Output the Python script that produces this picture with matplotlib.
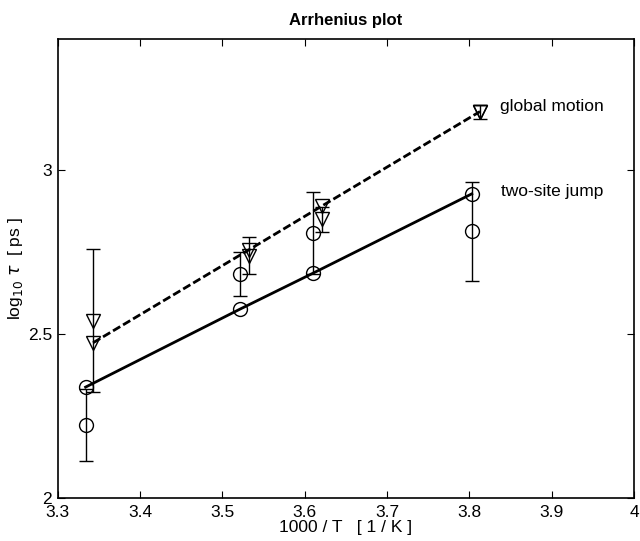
import matplotlib
matplotlib.use("Agg")
import matplotlib.pyplot as plt

plt.rcParams['font.family'] = ['Liberation Sans', 'DejaVu Sans']

# two-site jump (circles): fitted line points
jump_x = [3.334, 3.521, 3.610, 3.803]
jump_fit = [2.338, 2.575, 2.685, 2.927]
# two-site jump measured values with errors
jump_meas = [2.223, 2.683, 2.807, 2.813]
jump_err = [0.110, 0.068, 0.125, 0.151]

# global motion (triangles): fitted line points
glob_x = [3.343, 3.532, 3.621, 3.813]
glob_fit = [2.473, 2.756, 2.890, 3.178]
# global motion measured values with errors
glob_meas = [2.541, 2.739, 2.850, 3.176]
glob_err = [0.217, 0.056, 0.038, 0.022]

xticks = [3.3, 3.4, 3.5, 3.6, 3.7, 3.8, 3.9, 4.0]
xticklabels = ['3.3', '3.4', '3.5', '3.6', '3.7', '3.8', '3.9', '4']
yticks = [2.0, 2.5, 3.0]
yticklabels = ['2', '2.5', '3']

fig = plt.figure(figsize=(6.4, 5.41), dpi=100)
ax = fig.add_axes([0.090, 0.0795, 0.9006, 0.849])

ms = 10
ax.errorbar(jump_x, jump_meas, yerr=jump_err, fmt='o', mfc='none', mec='black',
            ms=ms, mew=1.0, ecolor='black', elinewidth=1.0, capsize=5, capthick=1.0)
ax.errorbar(glob_x, glob_meas, yerr=glob_err, fmt='v', mfc='none', mec='black',
            ms=ms, mew=1.0, ecolor='black', elinewidth=1.0, capsize=5, capthick=1.0)
ax.plot(jump_x, jump_fit, '-', color='black', lw=2.0, marker='o', mfc='none',
        mec='black', ms=ms, mew=1.0)
ax.plot(glob_x, glob_fit, color='black', lw=2.0, linestyle=(0, (3, 1.2)), marker='v',
        mfc='none', mec='black', ms=ms, mew=1.0)

ax.text(3.837, 3.192, 'global motion', fontsize=12.5, va='center', ha='left')
ax.text(3.839, 2.933, 'two-site jump', fontsize=12.5, va='center', ha='left')

ax.set_xlim(3.3, 4.0)
ax.set_ylim(2.0, 3.4)
ax.set_xticks(xticks)
ax.set_xticklabels(xticklabels)
ax.set_yticks(yticks)
ax.set_yticklabels(yticklabels)
ax.tick_params(direction='in', top=True, right=True, length=5, width=0.8,
               labelsize=12.5)
ax.tick_params(axis='x', pad=5)
ax.tick_params(axis='y', pad=4)
for s in ax.spines.values():
    s.set_linewidth(1.2)

ax.set_title('Arrhenius plot', fontsize=12, fontweight='bold', pad=10)
ax.set_xlabel('1000 / T   [ 1 / K ]', fontsize=12.5, labelpad=0)
ax.set_ylabel(r'log$_{10}$ $\tau$  [ ps ]', fontsize=12.5, labelpad=2)

fig.savefig('out.png', dpi=100)
